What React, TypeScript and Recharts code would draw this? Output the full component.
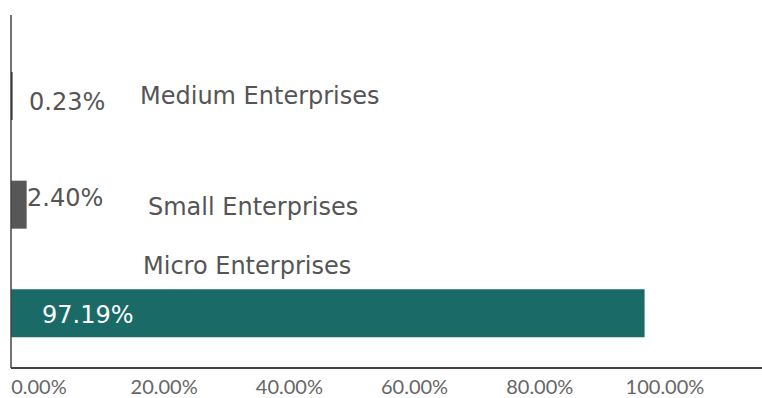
import * as React from "react";
import { BarChart, Bar, XAxis, YAxis, Cell, LabelList } from "recharts";

if (typeof document !== "undefined") document.body.style.margin = "0";

const categories = ["Medium Enterprises", "Small Enterprises", "Micro Enterprises"];
const shares = [0.23, 2.4, 97.19];
const xTicks = [0, 20, 40, 60, 80, 100];

const barColors = ["#161616", "#575757", "#1a6a67"];
// label placement relative to the bar's left edge / centre
const valueOffsets = [
  { dx: 18, dy: 6, fill: "#555555" },
  { dx: 16, dy: -7, fill: "#555555" },
  { dx: 31, dy: 2, fill: "#ffffff" },
];
const nameOffsets = [
  { dx: 129, dy: 0 },
  { dx: 137, dy: 2 },
  { dx: 132, dy: -47 },
];

const data = categories.map((name, i) => ({ name, share: shares[i] }));

const fmt = (v: number) => `${v.toFixed(2)}%`;

function indexOf(props: any) {
  if (typeof props.index === "number") return props.index;
  const i = shares.indexOf(Number(props.value));
  return i >= 0 ? i : categories.indexOf(String(props.value));
}

function ValueLabel(props: any) {
  const i = indexOf(props);
  const o = valueOffsets[i] ?? valueOffsets[0];
  const x = Number(props.x) + o.dx;
  const y = Number(props.y) + Number(props.height) / 2 + o.dy;
  return (
    <text x={x} y={y} fill={o.fill} fontSize={24} fontFamily="DejaVu Sans" dominantBaseline="central">
      {fmt(shares[i])}
    </text>
  );
}

function NameLabel(props: any) {
  const i = indexOf(props);
  const o = nameOffsets[i] ?? nameOffsets[0];
  const x = Number(props.x) + o.dx;
  const y = Number(props.y) + Number(props.height) / 2 + o.dy;
  return (
    <text x={x} y={y} fill="#555555" fontSize={24} fontFamily="DejaVu Sans" dominantBaseline="central">
      {categories[i]}
    </text>
  );
}

export default function App() {
  return (
    <div style={{ width: 762, height: 398, background: "#fff" }}>
      <BarChart
        width={762}
        height={398}
        data={data}
        layout="vertical"
        margin={{ top: 15, right: 0, left: 0, bottom: 0 }}
        barCategoryGap={0}
      >
        <XAxis xAxisId="bars" type="number" domain={[0, 115.2]} hide height={0} allowDataOverflow />
        <XAxis
          xAxisId="ticks"
          type="number"
          domain={[-4.47, 115.5]}
          ticks={xTicks}
          allowDataOverflow
          height={30}
          tickFormatter={fmt}
          tickLine={false}
          tickMargin={6}
          axisLine={{ stroke: "#444444", strokeWidth: 2 }}
          tick={{ fill: "#666666", fontSize: 20, fontFamily: "Lato" }}
        />
        <YAxis
          type="category"
          dataKey="name"
          width={11}
          tick={false}
          tickLine={false}
          padding={{ top: 27, bottom: 0 }}
          axisLine={{ stroke: "#444444", strokeWidth: 1.5 }}
        />
        <Bar dataKey="share" xAxisId="bars" barSize={48} isAnimationActive={false}>
          {data.map((d, i) => (
            <Cell key={d.name} fill={barColors[i]} />
          ))}
          <LabelList dataKey="share" content={ValueLabel} />
          <LabelList dataKey="name" content={NameLabel} />
        </Bar>
      </BarChart>
    </div>
  );
}
